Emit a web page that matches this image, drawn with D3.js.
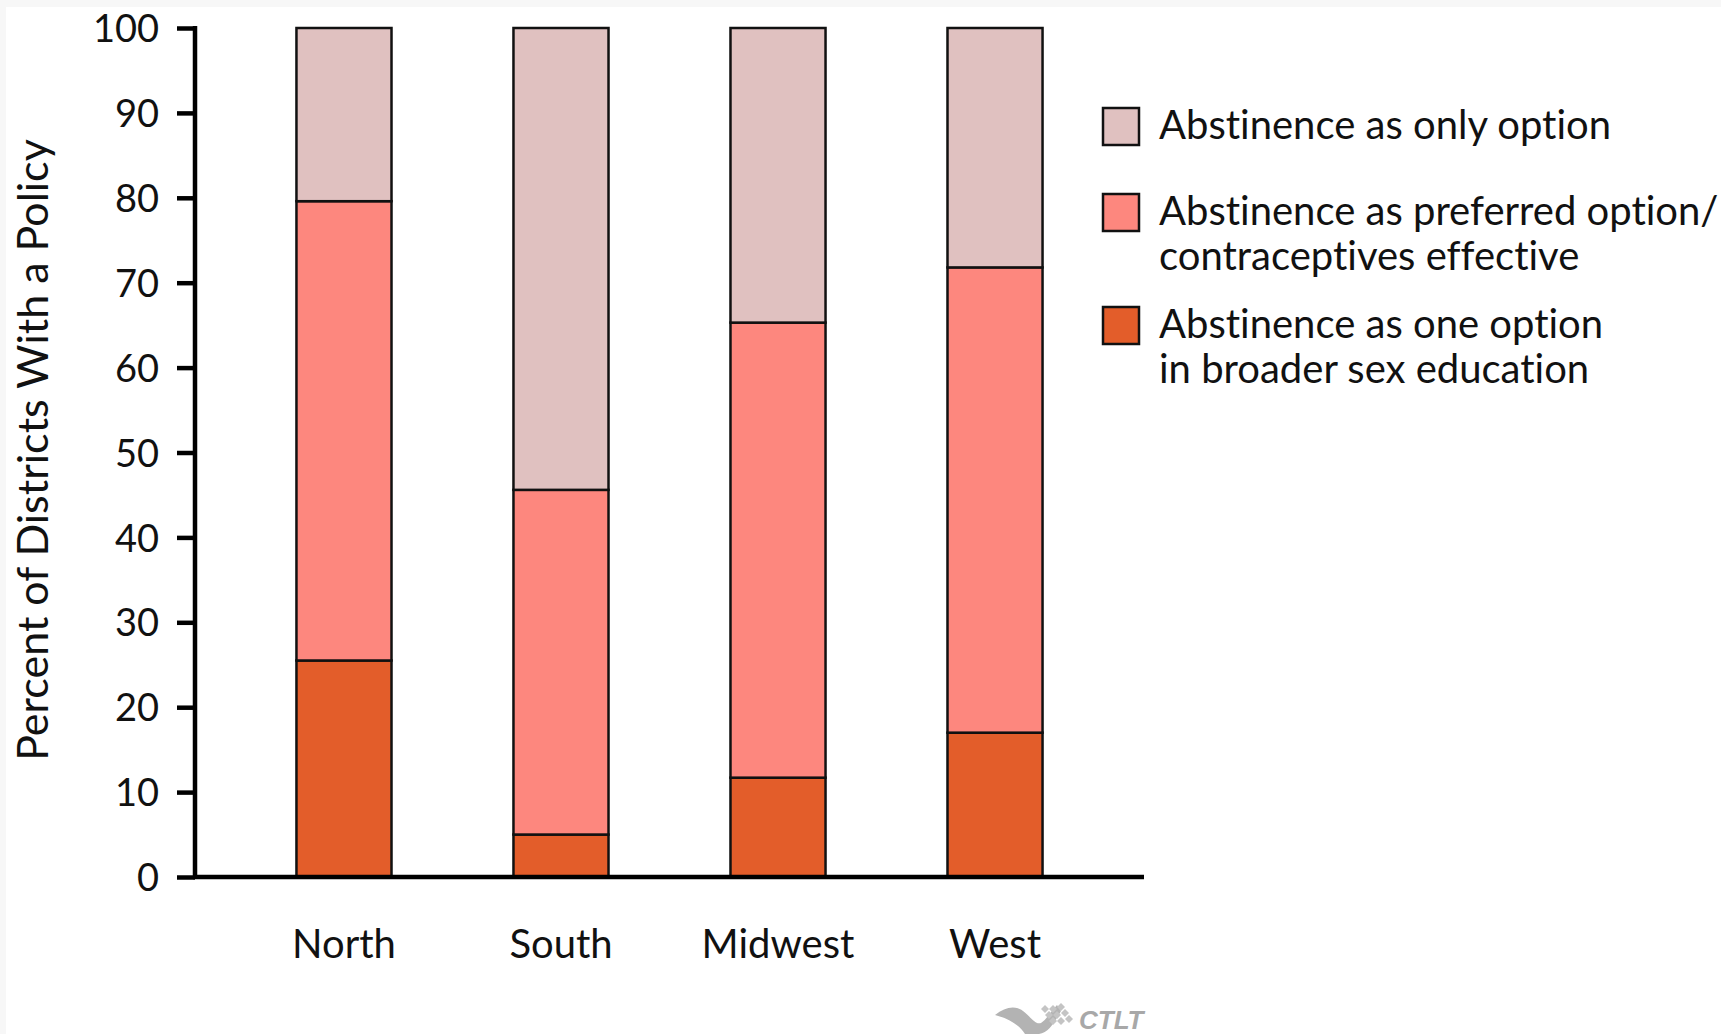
<!DOCTYPE html>
<html>
<head>
<meta charset="utf-8">
<script src="https://cdn.jsdelivr.net/npm/d3@7"></script>
<style>
  body { margin: 0; background: #f7f7f7; }
  svg { display: block; }
  text { font-family: "Lato", "Open Sans", sans-serif; fill: #111; font-variant-ligatures: none; }
</style>
</head>
<body>
<div id="chart"></div>
<script>

// regions along the x axis
var regions = ["North", "South", "Midwest", "West"];

// percent of districts, one array per policy (stacked bottom to top)
var oneOption = [25.5, 5.0, 11.7, 17.0];
var preferredOption = [54.1, 40.6, 53.6, 54.8];
var onlyOption = [20.4, 54.4, 34.7, 28.2];

var seriesColors = ["#e35d2a", "#fd877e", "#e0c1c0"];

// legend lines, top to bottom
var legendLines = [
    ["Abstinence as only option"],
    ["Abstinence as preferred option/", "contraceptives effective"],
    ["Abstinence as one option", "in broader sex education"]
];
var legendColors = ["#e0c1c0", "#fd877e", "#e35d2a"];

var yTicks = [0, 10, 20, 30, 40, 50, 60, 70, 80, 90, 100];

var W = 1721, H = 1034;
var margin = {top: 28, right: 577, bottom: 157, left: 195};
var width = W - margin.left - margin.right;
var height = H - margin.top - margin.bottom;

var svg = d3.select("#chart").append("svg")
    .attr("width", W)
    .attr("height", H);

// white page with a faint grey frame on top / left
svg.append("rect")
    .attr("x", 6).attr("y", 7)
    .attr("width", W).attr("height", H)
    .attr("fill", "#ffffff");

var g = svg.append("g")
    .attr("transform", "translate(" + margin.left + "," + margin.top + ")");

var x = d3.scaleBand()
    .domain(regions)
    .range([0, width])
    .paddingInner(0.562)
    .paddingOuter(0.4675);

var y = d3.scaleLinear()
    .domain([0, 100])
    .range([height, 0]);

// build table for the stack
var table = regions.map(function(r, i) {
    return {region: r, s0: oneOption[i], s1: preferredOption[i], s2: onlyOption[i]};
});

var stack = d3.stack().keys(["s0", "s1", "s2"]);
var layers = stack(table);

var layer = g.selectAll(".layer")
    .data(layers)
    .enter().append("g")
    .attr("class", "layer")
    .attr("fill", function(d, i) { return seriesColors[i]; });

layer.selectAll("rect")
    .data(function(d) { return d; })
    .enter().append("rect")
    .attr("x", function(d) { return x(d.data.region); })
    .attr("width", x.bandwidth())
    .attr("y", function(d) { return y(d[1]); })
    .attr("height", function(d) { return y(d[0]) - y(d[1]); })
    .attr("stroke", "#111")
    .attr("stroke-width", 2.5);

// y axis
var yAxis = g.append("g")
    .call(d3.axisLeft(y).tickValues(yTicks).tickSize(18).tickPadding(18));

yAxis.select(".domain")
    .attr("d", "M0," + (y(100) - 2) + "V" + (height + 2))
    .attr("stroke", "#000")
    .attr("stroke-width", 4.5);
yAxis.selectAll(".tick line")
    .attr("stroke", "#000")
    .attr("stroke-width", 4.5);
yAxis.selectAll(".tick text")
    .style("font-family", "Lato, sans-serif")
    .style("font-size", "38px")
    .attr("fill", "#111")
    .attr("dy", "0.36em");

// x axis line
g.append("line")
    .attr("x1", -2).attr("x2", width)
    .attr("y1", height).attr("y2", height)
    .attr("stroke", "#000")
    .attr("stroke-width", 4.5);

// category labels
g.selectAll(".xlab")
    .data(regions)
    .enter().append("text")
    .attr("class", "xlab")
    .attr("x", function(d) { return x(d) + x.bandwidth() / 2; })
    .attr("y", height + 81)
    .attr("text-anchor", "middle")
    .style("font-size", "40px")
    .text(function(d) { return d; });

// y axis title
svg.append("text")
    .attr("transform", "translate(48,450) rotate(-90)")
    .attr("text-anchor", "middle")
    .style("font-size", "43px")
    .text("Percent of Districts With a Policy");

// legend
var legendTop = [108, 194, 307];
var legend = svg.selectAll(".legend")
    .data(legendLines)
    .enter().append("g")
    .attr("class", "legend")
    .attr("transform", function(d, i) { return "translate(1103," + legendTop[i] + ")"; });

legend.append("rect")
    .attr("width", 36)
    .attr("height", 37)
    .attr("fill", function(d, i) { return legendColors[i]; })
    .attr("stroke", "#111")
    .attr("stroke-width", 2.5);

legend.selectAll("text")
    .data(function(d) { return d; })
    .enter().append("text")
    .attr("x", 56)
    .attr("y", function(d, j) { return 31 + j * 45; })
    .style("font-size", "40px")
    .text(function(d) { return d; });

// small CTLT mark at bottom right
var logo = svg.append("g").attr("transform", "translate(995,1003)");
logo.append("path")
    .attr("d", "M0,12 C10,4 20,2 28,8 C36,14 40,22 46,20 C52,16 56,8 62,2 L66,8 C60,18 54,30 44,31 L30,31 C26,24 16,16 0,12 Z")
    .attr("fill", "#b3b3b3");
var diamonds = [[50, 6], [58, 6], [54, 12], [62, 12], [66, 4], [70, 10], [58, 18], [66, 18], [74, 16]];
logo.selectAll(".dia")
    .data(diamonds)
    .enter().append("path")
    .attr("d", function(d) { return "M" + d[0] + "," + (d[1] - 4) + "l4,4l-4,4l-4,-4z"; })
    .attr("fill", "#c4c4c4");
logo.append("text")
    .attr("x", 84).attr("y", 26)
    .style("font-family", "Liberation Sans, sans-serif")
    .style("font-weight", "bold")
    .style("font-style", "italic")
    .style("font-size", "26px")
    .style("fill", "#a8a8a8")
    .text("CTLT");

</script>
</body>
</html>
